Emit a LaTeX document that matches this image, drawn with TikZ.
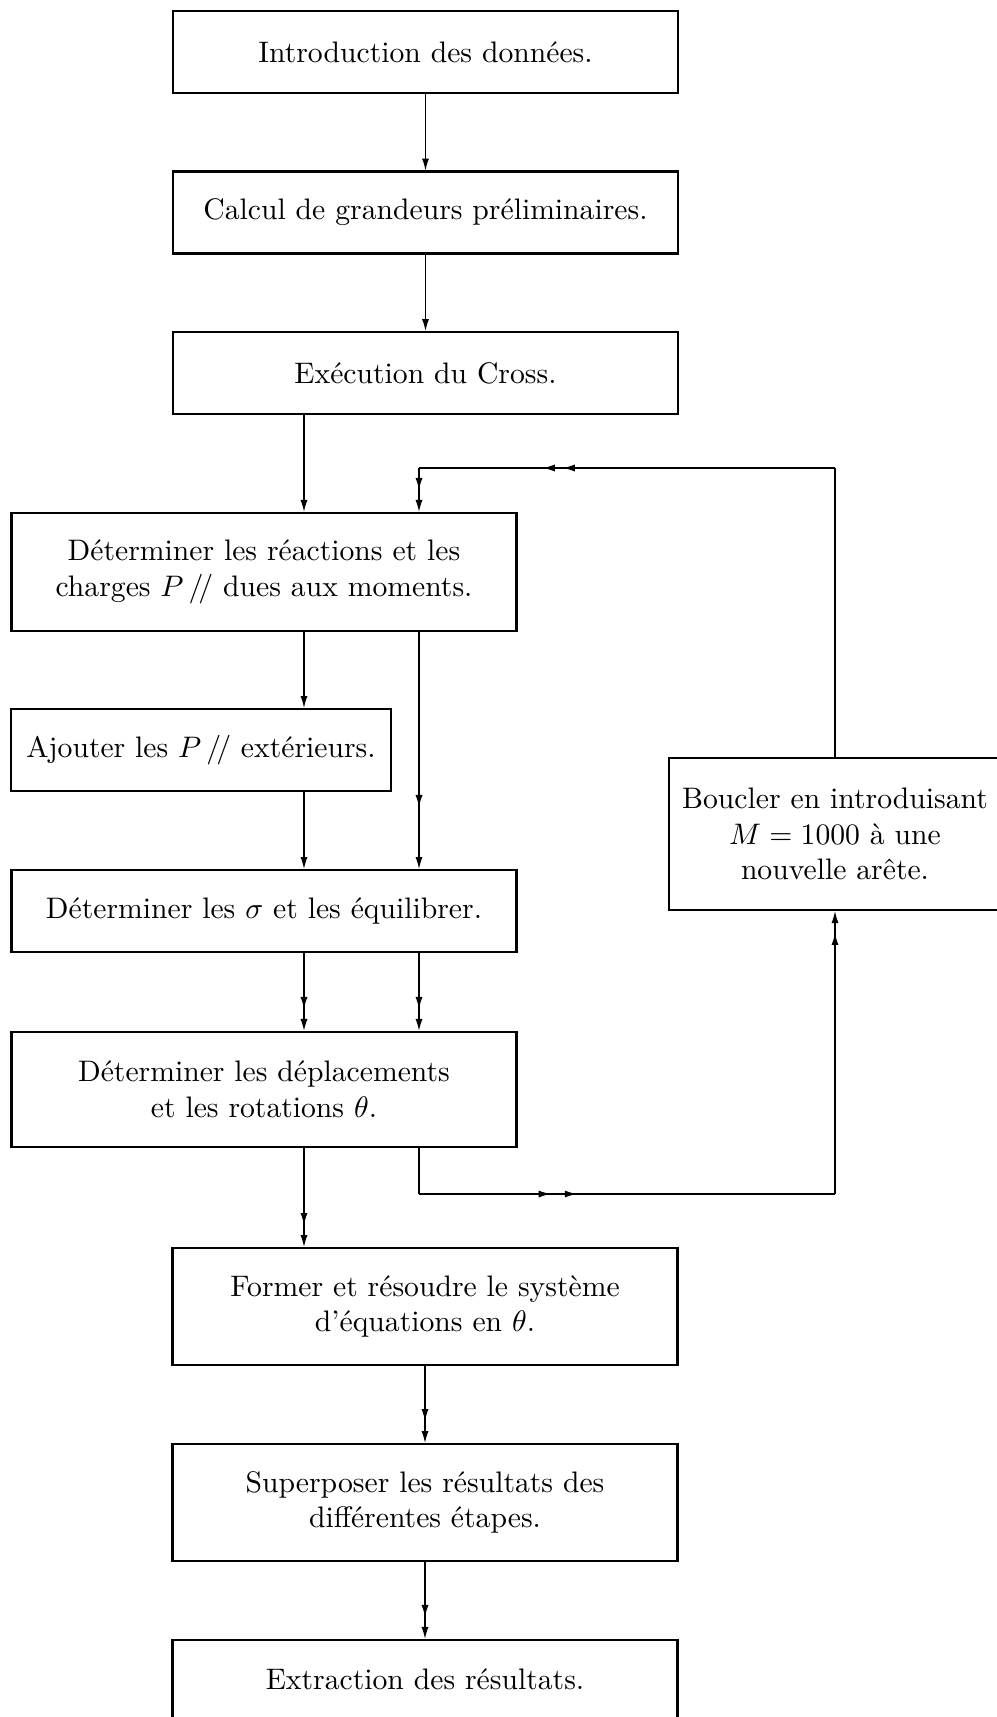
\documentclass[tikz,border=0pt]{standalone}
\usetikzlibrary{arrows.meta,decorations.markings}
\tikzset{>={Latex[length=4pt,width=2.4pt]}}

\begin{document}
\begin{tikzpicture}[x=.337pt,y=-.337pt,
  stage/.style={draw,line width=.8pt,align=center,inner sep=0pt,minimum width=170.3pt,minimum height=27.6pt},
  flow/.style={->,line width=.4pt},
  flowtwo/.style={flow,postaction=decorate,decoration={markings,mark=at position -#1 with {\arrow{>}}}},
  flowtwo/.default=7.4pt,
  midtwo/.style 2 args={line width=.4pt,postaction=decorate,decoration={markings,mark=at position #1 with {\arrow{>}},mark=at position #2 with {\arrow{>}}}}]
\useasboundingbox (0,0) rectangle (997,1717);
% main column
\node[stage] (intro) at (425.5,52) {Introduction des données.};
\node[stage] (calcul) at (425.5,212.5) {Calcul de grandeurs préliminaires.};
\node[stage] (cross) at (425.5,373) {Exécution du Cross.};
\node[stage,minimum height=39.8pt] (reac) at (264,572) {Déterminer les réactions et les\\charges $P\,/\!/$ dues aux moments.};
\node[stage,minimum width=128.1pt] (ajout) at (201,750) {Ajouter les $P\,/\!/$ extérieurs.};
\node[stage] (sigma) at (264,911) {Déterminer les $\sigma$ et les équilibrer.};
\node[stage,minimum height=38.8pt] (depl) at (264,1089.5) {Déterminer les déplacements\\et les rotations $\theta$.};
\node[stage,minimum height=39.4pt] (former) at (425,1306.5) {Former et résoudre le système\\d’équations en $\theta$.};
\node[stage,minimum height=39.4pt] (superp) at (425,1502.5) {Superposer les résultats des\\différentes étapes.};
\node[stage,minimum height=26.3pt] (extr) at (425,1679) {Extraction des résultats.};
% loop box
\node[stage,minimum width=111.9pt,minimum height=51.2pt] (boucler) at (835,834) {Boucler en introduisant\\$M=1000$ à une\\nouvelle arête.};
\coordinate (colA) at (304,0); \coordinate (colB) at (419,0);
\coordinate (top) at (419,468); \coordinate (bot) at (419,1194);

\foreach \a/\b in {intro/calcul,calcul/cross} \draw[flow] (\a.south) -- (\b.north);
\foreach \a/\b in {former/superp,superp/extr} \draw[flowtwo] (\a.south) -- (\b.north);
\draw[flow] (cross.south -| colA) -- (reac.north -| colA);
\draw[flow] (reac.south -| colA) -- (ajout.north -| colA);
\draw[flow] (ajout.south -| colA) -- (sigma.north -| colA);
\draw[flowtwo=20.9pt] (reac.south -| colB) -- (sigma.north -| colB);
\draw[flowtwo] (sigma.south -| colA) -- (depl.north -| colA);
\draw[flowtwo] (sigma.south -| colB) -- (depl.north -| colB);
\draw[flowtwo] (depl.south -| colA) -- (former.north -| colA);
% feedback
\draw[line width=.4pt] (boucler.north) -- (boucler.north |- top);
\draw[midtwo={.654}{.702}] (boucler.north |- top) -- (top);
\draw[flowtwo] (top) -- (reac.north -| top);
\draw[line width=.4pt] (depl.south -| bot) -- (bot);
\draw[midtwo={.316}{.379}] (bot) -- (boucler.south |- bot);
\draw[flowtwo] (boucler.south |- bot) -- (boucler.south);
\end{tikzpicture}
\end{document}
